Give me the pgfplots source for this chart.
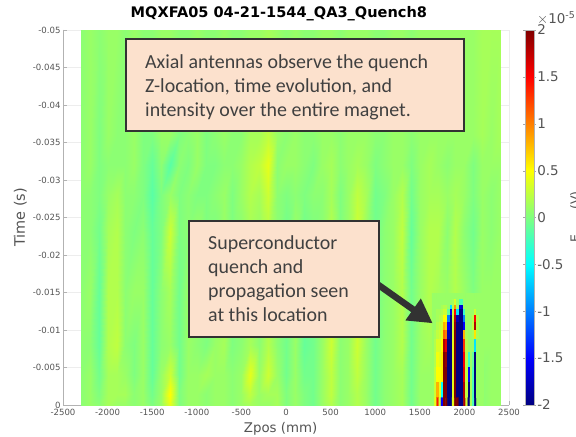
\documentclass[border=0pt]{standalone}
\usepackage{fontspec}
\setmainfont{DejaVu Sans}
\newfontfamily\boxfont{Carlito}
\usepackage{pgfplots}
\pgfplotsset{compat=1.18}
\usetikzlibrary{arrows.meta}
\definecolor{tk}{gray}{0.33}
\definecolor{peach}{RGB}{252,225,205}
\definecolor{bd}{RGB}{50,50,50}
\definecolor{tx}{RGB}{64,64,64}
\begin{document}
\begin{tikzpicture}[x=1bp,y=1bp]
\useasboundingbox (0,0) rectangle (576,437);
\begin{axis}[
  at={(63bp,32bp)}, anchor=south west, scale only axis,
  width=446bp, height=375bp,
  xmin=-2500, xmax=2500, ymin=-0.05, ymax=0, y dir=reverse,
  axis x line*=bottom, axis y line*=left,
  axis line style={gray!60,-},
  scaled y ticks=false,
  xtick={-2500,-2000,...,2500},
  xticklabels={-2500,-2000,-1500,-1000,-500,0,500,1000,1500,2000,2500},
  ytick={-0.05,-0.045,-0.04,-0.035,-0.03,-0.025,-0.02,-0.015,-0.01,-0.005,0},
  yticklabels={-0.05,-0.045,-0.04,-0.035,-0.03,-0.025,-0.02,-0.015,-0.01,-0.005,0},
  tick align=inside, major tick length=4bp,
  tick style={gray!60},
  grid=major, major grid style={gray!14,line width=0.4pt},
  tick label style={font=\fontsize{8.6}{10}\selectfont, text=tk},
  xticklabel style={yshift=-1bp}, yticklabel style={xshift=1bp},
  title={\bfseries MQXFA05 04-21-1544\_QA3\_Quench8},
  title style={font=\fontsize{14.6}{16}\selectfont, at={(axis description cs:0.484,1)}, anchor=south, yshift=3bp, inner sep=0pt},
  xlabel={Zpos (mm)},
  xlabel style={font=\fontsize{13.4}{15}\selectfont, text=tk, at={(axis description cs:0.488,-0.045)}, anchor=north, inner sep=0pt},
  ylabel={Time (s)},
  ylabel style={font=\fontsize{14.5}{16}\selectfont, text=tk, at={(axis description cs:-0.081,0.5)}, anchor=south, inner sep=0pt, rotate=0},
  colormap/jet,
  point meta min=-2, point meta max=2,
  colorbar,
  colorbar style={
    at={(1.036,0)}, anchor=south west, width=9bp, height=375bp,
    y dir=normal,
    ytick={-2,-1.5,-1,-0.5,0,0.5,1,1.5,2},
    yticklabels={-2,-1.5,-1,-0.5,0,0.5,1,1.5,2},
    tick align=outside, major tick length=2bp, tick style={gray!70},
    axis line style={gray!60},
    ticklabel pos=right,
    yticklabel style={font=\fontsize{13.5}{15}\selectfont, text=tk, xshift=0bp, inner sep=1bp},
    scaled y ticks=false,
  },
]
\addplot[surf, shader=interp, mesh/cols=48, point meta=\thisrow{c}] table[row sep=\\] {
x y c\\
-2300 -.05 .05\\ -2200 -.05 .1\\ -2100 -.05 .05\\ -2000 -.05 .1\\ -1900 -.05 .1\\ -1800 -.05 .05\\ -1700 -.05 .1\\ -1600 -.05 .05\\ -1500 -.05 .05\\ -1400 -.05 .1\\ -1300 -.05 .1\\ -1200 -.05 .05\\ -1100 -.05 .05\\ -1000 -.05 .1\\ -900 -.05 .05\\ -800 -.05 .05\\ -700 -.05 .1\\ -600 -.05 .05\\ -500 -.05 .05\\ -400 -.05 .1\\ -300 -.05 .1\\ -200 -.05 .15\\ -100 -.05 .1\\ 0 -.05 .05\\ 100 -.05 .1\\ 200 -.05 .05\\ 300 -.05 .05\\ 400 -.05 .1\\ 500 -.05 .1\\ 600 -.05 .05\\ 700 -.05 .1\\ 800 -.05 .1\\ 900 -.05 .1\\ 1000 -.05 .05\\ 1100 -.05 .05\\ 1200 -.05 .1\\ 1300 -.05 .1\\ 1400 -.05 .05\\ 1500 -.05 .1\\ 1600 -.05 .1\\ 1700 -.05 .1\\ 1800 -.05 .1\\ 1900 -.05 .1\\ 2000 -.05 .1\\ 2100 -.05 .1\\ 2200 -.05 .15\\ 2300 -.05 .15\\ 2400 -.05 .15\\
-2300 -.036 .05\\ -2200 -.036 .1\\ -2100 -.036 0\\ -2000 -.036 .1\\ -1900 -.036 .05\\ -1800 -.036 .05\\ -1700 -.036 .1\\ -1600 -.036 0\\ -1500 -.036 0\\ -1400 -.036 .1\\ -1300 -.036 .1\\ -1200 -.036 0\\ -1100 -.036 .05\\ -1000 -.036 .1\\ -900 -.036 0\\ -800 -.036 .05\\ -700 -.036 .1\\ -600 -.036 .05\\ -500 -.036 .05\\ -400 -.036 .15\\ -300 -.036 .15\\ -200 -.036 .25\\ -100 -.036 .1\\ 0 -.036 .05\\ 100 -.036 .1\\ 200 -.036 .05\\ 300 -.036 .05\\ 400 -.036 .1\\ 500 -.036 .1\\ 600 -.036 .05\\ 700 -.036 .1\\ 800 -.036 .1\\ 900 -.036 .1\\ 1000 -.036 .05\\ 1100 -.036 .05\\ 1200 -.036 .1\\ 1300 -.036 .1\\ 1400 -.036 .05\\ 1500 -.036 .1\\ 1600 -.036 .1\\ 1700 -.036 .1\\ 1800 -.036 .1\\ 1900 -.036 .1\\ 2000 -.036 .1\\ 2100 -.036 .1\\ 2200 -.036 .15\\ 2300 -.036 .1\\ 2400 -.036 .15\\
-2300 -.032 .05\\ -2200 -.032 .1\\ -2100 -.032 0\\ -2000 -.032 .05\\ -1900 -.032 .05\\ -1800 -.032 .05\\ -1700 -.032 .1\\ -1600 -.032 0\\ -1500 -.032 -.1\\ -1400 -.032 .05\\ -1300 -.032 -.15\\ -1200 -.032 .05\\ -1100 -.032 0\\ -1000 -.032 .1\\ -900 -.032 0\\ -800 -.032 0\\ -700 -.032 .05\\ -600 -.032 .05\\ -500 -.032 .1\\ -400 -.032 .2\\ -300 -.032 .25\\ -200 -.032 .4\\ -100 -.032 .05\\ 0 -.032 .1\\ 100 -.032 .1\\ 200 -.032 .05\\ 300 -.032 0\\ 400 -.032 .1\\ 500 -.032 .15\\ 600 -.032 .05\\ 700 -.032 .1\\ 800 -.032 .15\\ 900 -.032 .1\\ 1000 -.032 0\\ 1100 -.032 .05\\ 1200 -.032 .1\\ 1300 -.032 .1\\ 1400 -.032 0\\ 1500 -.032 .1\\ 1600 -.032 .15\\ 1700 -.032 .1\\ 1800 -.032 .05\\ 1900 -.032 .1\\ 2000 -.032 .1\\ 2100 -.032 0\\ 2200 -.032 .1\\ 2300 -.032 .1\\ 2400 -.032 .1\\
-2300 -.028 .05\\ -2200 -.028 .05\\ -2100 -.028 0\\ -2000 -.028 .1\\ -1900 -.028 .15\\ -1800 -.028 .05\\ -1700 -.028 .05\\ -1600 -.028 0\\ -1500 -.028 -.15\\ -1400 -.028 0\\ -1300 -.028 .1\\ -1200 -.028 0\\ -1100 -.028 .05\\ -1000 -.028 0\\ -900 -.028 0\\ -800 -.028 .05\\ -700 -.028 .1\\ -600 -.028 0\\ -500 -.028 .1\\ -400 -.028 .2\\ -300 -.028 .15\\ -200 -.028 .3\\ -100 -.028 .05\\ 0 -.028 0\\ 100 -.028 .05\\ 200 -.028 0\\ 300 -.028 .05\\ 400 -.028 .05\\ 500 -.028 .15\\ 600 -.028 0\\ 700 -.028 .1\\ 800 -.028 .25\\ 900 -.028 .15\\ 1000 -.028 -.05\\ 1100 -.028 0\\ 1200 -.028 .1\\ 1300 -.028 .2\\ 1400 -.028 -.05\\ 1500 -.028 .1\\ 1600 -.028 .15\\ 1700 -.028 .15\\ 1800 -.028 .1\\ 1900 -.028 .15\\ 2000 -.028 .1\\ 2100 -.028 0\\ 2200 -.028 .1\\ 2300 -.028 .05\\ 2400 -.028 .1\\
-2300 -.023 .05\\ -2200 -.023 .05\\ -2100 -.023 -.05\\ -2000 -.023 .15\\ -1900 -.023 .2\\ -1800 -.023 .05\\ -1700 -.023 0\\ -1600 -.023 .05\\ -1500 -.023 -.1\\ -1400 -.023 0\\ -1300 -.023 .3\\ -1200 -.023 0\\ -1100 -.023 .05\\ -1000 -.023 .1\\ -900 -.023 0\\ -800 -.023 0\\ -700 -.023 .1\\ -600 -.023 0\\ -500 -.023 .05\\ -400 -.023 .15\\ -300 -.023 .1\\ -200 -.023 .2\\ -100 -.023 .05\\ 0 -.023 -.05\\ 100 -.023 .1\\ 200 -.023 -.05\\ 300 -.023 0\\ 400 -.023 .05\\ 500 -.023 .2\\ 600 -.023 0\\ 700 -.023 .1\\ 800 -.023 .3\\ 900 -.023 .1\\ 1000 -.023 -.05\\ 1100 -.023 .05\\ 1200 -.023 .1\\ 1300 -.023 .25\\ 1400 -.023 -.1\\ 1500 -.023 .1\\ 1600 -.023 .2\\ 1700 -.023 .2\\ 1800 -.023 .05\\ 1900 -.023 .2\\ 2000 -.023 .05\\ 2100 -.023 -.05\\ 2200 -.023 .1\\ 2300 -.023 .05\\ 2400 -.023 .1\\
-2300 -.015 .05\\ -2200 -.015 .1\\ -2100 -.015 -.1\\ -2000 -.015 .2\\ -1900 -.015 .2\\ -1800 -.015 .05\\ -1700 -.015 .1\\ -1600 -.015 .1\\ -1500 -.015 -.1\\ -1400 -.015 .05\\ -1300 -.015 .15\\ -1200 -.015 -.05\\ -1100 -.015 .1\\ -1000 -.015 .1\\ -900 -.015 .05\\ -800 -.015 .05\\ -700 -.015 .1\\ -600 -.015 0\\ -500 -.015 .05\\ -400 -.015 .1\\ -300 -.015 .05\\ -200 -.015 .15\\ -100 -.015 .05\\ 0 -.015 0\\ 100 -.015 .1\\ 200 -.015 -.05\\ 300 -.015 0\\ 400 -.015 .1\\ 500 -.015 .25\\ 600 -.015 .05\\ 700 -.015 .1\\ 800 -.015 .25\\ 900 -.015 .1\\ 1000 -.015 -.05\\ 1100 -.015 .05\\ 1200 -.015 .1\\ 1300 -.015 .2\\ 1400 -.015 -.05\\ 1500 -.015 .1\\ 1600 -.015 .2\\ 1700 -.015 .15\\ 1800 -.015 .1\\ 1900 -.015 .2\\ 2000 -.015 .1\\ 2100 -.015 0\\ 2200 -.015 .1\\ 2300 -.015 .1\\ 2400 -.015 .1\\
-2300 -.008 .05\\ -2200 -.008 .05\\ -2100 -.008 -.1\\ -2000 -.008 .2\\ -1900 -.008 .25\\ -1800 -.008 .05\\ -1700 -.008 0\\ -1600 -.008 .1\\ -1500 -.008 -.1\\ -1400 -.008 .05\\ -1300 -.008 .1\\ -1200 -.008 -.05\\ -1100 -.008 .1\\ -1000 -.008 .05\\ -900 -.008 0\\ -800 -.008 .1\\ -700 -.008 .15\\ -600 -.008 0\\ -500 -.008 .05\\ -400 -.008 .15\\ -300 -.008 .05\\ -200 -.008 .2\\ -100 -.008 .05\\ 0 -.008 -.05\\ 100 -.008 .1\\ 200 -.008 -.1\\ 300 -.008 -.05\\ 400 -.008 .1\\ 500 -.008 .3\\ 600 -.008 .05\\ 700 -.008 .1\\ 800 -.008 .3\\ 900 -.008 .1\\ 1000 -.008 -.05\\ 1100 -.008 .05\\ 1200 -.008 .1\\ 1300 -.008 .2\\ 1400 -.008 -.05\\ 1500 -.008 .1\\ 1600 -.008 .15\\ 1700 -.008 .1\\ 1800 -.008 .1\\ 1900 -.008 .15\\ 2000 -.008 .1\\ 2100 -.008 .05\\ 2200 -.008 .1\\ 2300 -.008 .1\\ 2400 -.008 .1\\
-2300 -.004 .05\\ -2200 -.004 .1\\ -2100 -.004 -.05\\ -2000 -.004 .15\\ -1900 -.004 .15\\ -1800 -.004 .1\\ -1700 -.004 0\\ -1600 -.004 .1\\ -1500 -.004 -.1\\ -1400 -.004 .1\\ -1300 -.004 .3\\ -1200 -.004 -.05\\ -1100 -.004 .1\\ -1000 -.004 .1\\ -900 -.004 .15\\ -800 -.004 .1\\ -700 -.004 .1\\ -600 -.004 .05\\ -500 -.004 .1\\ -400 -.004 .4\\ -300 -.004 .1\\ -200 -.004 .3\\ -100 -.004 .1\\ 0 -.004 -.05\\ 100 -.004 .1\\ 200 -.004 -.05\\ 300 -.004 -.05\\ 400 -.004 .1\\ 500 -.004 .25\\ 600 -.004 .05\\ 700 -.004 .1\\ 800 -.004 .25\\ 900 -.004 .1\\ 1000 -.004 -.05\\ 1100 -.004 .05\\ 1200 -.004 .1\\ 1300 -.004 .15\\ 1400 -.004 -.05\\ 1500 -.004 .1\\ 1600 -.004 .1\\ 1700 -.004 .1\\ 1800 -.004 .1\\ 1900 -.004 .1\\ 2000 -.004 .1\\ 2100 -.004 .05\\ 2200 -.004 .05\\ 2300 -.004 .1\\ 2400 -.004 .1\\
-2300 -.0015 .05\\ -2200 -.0015 .1\\ -2100 -.0015 0\\ -2000 -.0015 .15\\ -1900 -.0015 .15\\ -1800 -.0015 .15\\ -1700 -.0015 .05\\ -1600 -.0015 .1\\ -1500 -.0015 -.05\\ -1400 -.0015 .1\\ -1300 -.0015 .5\\ -1200 -.0015 0\\ -1100 -.0015 .1\\ -1000 -.0015 .1\\ -900 -.0015 .05\\ -800 -.0015 .1\\ -700 -.0015 .1\\ -600 -.0015 .05\\ -500 -.0015 .1\\ -400 -.0015 .25\\ -300 -.0015 .1\\ -200 -.0015 .15\\ -100 -.0015 .15\\ 0 -.0015 0\\ 100 -.0015 .1\\ 200 -.0015 0\\ 300 -.0015 -.05\\ 400 -.0015 .1\\ 500 -.0015 .25\\ 600 -.0015 .05\\ 700 -.0015 .1\\ 800 -.0015 .2\\ 900 -.0015 .1\\ 1000 -.0015 -.05\\ 1100 -.0015 .05\\ 1200 -.0015 .1\\ 1300 -.0015 .15\\ 1400 -.0015 -.05\\ 1500 -.0015 .1\\ 1600 -.0015 .1\\ 1700 -.0015 .1\\ 1800 -.0015 .1\\ 1900 -.0015 .1\\ 2000 -.0015 .1\\ 2100 -.0015 .05\\ 2200 -.0015 .05\\ 2300 -.0015 .1\\ 2400 -.0015 .1\\
-2300 0 .05\\ -2200 0 .1\\ -2100 0 .05\\ -2000 0 .15\\ -1900 0 .1\\ -1800 0 .1\\ -1700 0 .05\\ -1600 0 .1\\ -1500 0 0\\ -1400 0 .1\\ -1300 0 .4\\ -1200 0 0\\ -1100 0 .1\\ -1000 0 .1\\ -900 0 .05\\ -800 0 .1\\ -700 0 .1\\ -600 0 .05\\ -500 0 .1\\ -400 0 .15\\ -300 0 .1\\ -200 0 .1\\ -100 0 .15\\ 0 0 0\\ 100 0 .1\\ 200 0 0\\ 300 0 -.05\\ 400 0 .1\\ 500 0 .2\\ 600 0 .05\\ 700 0 .1\\ 800 0 .2\\ 900 0 .1\\ 1000 0 -.05\\ 1100 0 .05\\ 1200 0 .1\\ 1300 0 .15\\ 1400 0 -.05\\ 1500 0 .1\\ 1600 0 .1\\ 1700 0 .1\\ 1800 0 .1\\ 1900 0 .1\\ 2000 0 .1\\ 2100 0 .05\\ 2200 0 .05\\ 2300 0 .1\\ 2400 0 .1\\
};
\addplot[matrix plot*, mesh/cols=23, point meta=\thisrow{c}] table[row sep=\\] {
x y c\\
1650 -.0145 .1\\ 1675 -.0145 .1\\ 1700 -.0145 .1\\ 1725 -.0145 .1\\ 1750 -.0145 .1\\ 1775 -.0145 .1\\ 1800 -.0145 .1\\ 1825 -.0145 .1\\ 1850 -.0145 .1\\ 1875 -.0145 .1\\ 1900 -.0145 .1\\ 1925 -.0145 .1\\ 1950 -.0145 .1\\ 1975 -.0145 .1\\ 2000 -.0145 .1\\ 2025 -.0145 .1\\ 2050 -.0145 .1\\ 2075 -.0145 .1\\ 2100 -.0145 .1\\ 2125 -.0145 .1\\ 2150 -.0145 .1\\ 2175 -.0145 .1\\ 2200 -.0145 .1\\
1650 -.0137 .1\\ 1675 -.0137 .1\\ 1700 -.0137 .1\\ 1725 -.0137 .1\\ 1750 -.0137 .1\\ 1775 -.0137 .1\\ 1800 -.0137 .1\\ 1825 -.0137 .1\\ 1850 -.0137 .1\\ 1875 -.0137 .15\\ 1900 -.0137 .35\\ 1925 -.0137 .1\\ 1950 -.0137 -.2\\ 1975 -.0137 -.2\\ 2000 -.0137 .1\\ 2025 -.0137 .1\\ 2050 -.0137 .1\\ 2075 -.0137 .1\\ 2100 -.0137 .1\\ 2125 -.0137 .1\\ 2150 -.0137 .1\\ 2175 -.0137 .1\\ 2200 -.0137 .1\\
1650 -.013 .1\\ 1675 -.013 .1\\ 1700 -.013 .1\\ 1725 -.013 .1\\ 1750 -.013 .15\\ 1775 -.013 .2\\ 1800 -.013 .2\\ 1825 -.013 .1\\ 1850 -.013 -.6\\ 1875 -.013 .2\\ 1900 -.013 .9\\ 1925 -.013 .1\\ 1950 -.013 -1.6\\ 1975 -.013 -1.7\\ 2000 -.013 .1\\ 2025 -.013 .1\\ 2050 -.013 .1\\ 2075 -.013 .1\\ 2100 -.013 .1\\ 2125 -.013 .1\\ 2150 -.013 .1\\ 2175 -.013 .1\\ 2200 -.013 .1\\
1650 -.0125 .1\\ 1675 -.0125 .1\\ 1700 -.0125 .15\\ 1725 -.0125 .15\\ 1750 -.0125 .2\\ 1775 -.0125 .3\\ 1800 -.0125 .3\\ 1825 -.0125 -.1\\ 1850 -.0125 -1.6\\ 1875 -.0125 .3\\ 1900 -.0125 1.5\\ 1925 -.0125 -.6\\ 1950 -.0125 -2\\ 1975 -.0125 -2\\ 2000 -.0125 -.3\\ 2025 -.0125 .1\\ 2050 -.0125 .1\\ 2075 -.0125 .1\\ 2100 -.0125 .1\\ 2125 -.0125 .3\\ 2150 -.0125 .1\\ 2175 -.0125 .1\\ 2200 -.0125 .1\\
1650 -.0115 .1\\ 1675 -.0115 .1\\ 1700 -.0115 .15\\ 1725 -.0115 .2\\ 1750 -.0115 .25\\ 1775 -.0115 .5\\ 1800 -.0115 .5\\ 1825 -.0115 -1\\ 1850 -.0115 -2\\ 1875 -.0115 .3\\ 1900 -.0115 1.8\\ 1925 -.0115 -1.8\\ 1950 -.0115 -2\\ 1975 -.0115 -2\\ 2000 -.0115 -1\\ 2025 -.0115 .1\\ 2050 -.0115 .1\\ 2075 -.0115 .1\\ 2100 -.0115 .2\\ 2125 -.0115 1.5\\ 2150 -.0115 .2\\ 2175 -.0115 .1\\ 2200 -.0115 .1\\
1650 -.0105 .1\\ 1675 -.0105 .1\\ 1700 -.0105 .2\\ 1725 -.0105 .25\\ 1750 -.0105 .3\\ 1775 -.0105 .8\\ 1800 -.0105 .7\\ 1825 -.0105 -1.5\\ 1850 -.0105 -2\\ 1875 -.0105 .3\\ 1900 -.0105 1.9\\ 1925 -.0105 -2\\ 1950 -.0105 -2\\ 1975 -.0105 -2\\ 2000 -.0105 -1.5\\ 2025 -.0105 .1\\ 2050 -.0105 .1\\ 2075 -.0105 .1\\ 2100 -.0105 .25\\ 2125 -.0105 1.8\\ 2150 -.0105 .2\\ 2175 -.0105 .1\\ 2200 -.0105 .1\\
1650 -.0095 .1\\ 1675 -.0095 .15\\ 1700 -.0095 .25\\ 1725 -.0095 .3\\ 1750 -.0095 .4\\ 1775 -.0095 1.1\\ 1800 -.0095 1\\ 1825 -.0095 -1.8\\ 1850 -.0095 -2\\ 1875 -.0095 .35\\ 1900 -.0095 2\\ 1925 -.0095 -2\\ 1950 -.0095 -2\\ 1975 -.0095 -2\\ 2000 -.0095 .8\\ 2025 -.0095 .15\\ 2050 -.0095 .1\\ 2075 -.0095 .1\\ 2100 -.0095 .15\\ 2125 -.0095 .6\\ 2150 -.0095 .15\\ 2175 -.0095 .1\\ 2200 -.0095 .1\\
1650 -.008 .1\\ 1675 -.008 .2\\ 1700 -.008 .35\\ 1725 -.008 .35\\ 1750 -.008 .5\\ 1775 -.008 1.8\\ 1800 -.008 1.6\\ 1825 -.008 -2\\ 1850 -.008 -2\\ 1875 -.008 .4\\ 1900 -.008 2\\ 1925 -.008 -2\\ 1950 -.008 -2\\ 1975 -.008 -2\\ 2000 -.008 1.3\\ 2025 -.008 .2\\ 2050 -.008 .1\\ 2075 -.008 .1\\ 2100 -.008 .1\\ 2125 -.008 -.6\\ 2150 -.008 .1\\ 2175 -.008 .1\\ 2200 -.008 .1\\
1650 -.006 .1\\ 1675 -.006 .2\\ 1700 -.006 .45\\ 1725 -.006 .4\\ 1750 -.006 .55\\ 1775 -.006 2\\ 1800 -.006 1.9\\ 1825 -.006 -2\\ 1850 -.006 -2\\ 1875 -.006 .4\\ 1900 -.006 2\\ 1925 -.006 -2\\ 1950 -.006 -2\\ 1975 -.006 -2\\ 2000 -.006 1.5\\ 2025 -.006 .2\\ 2050 -.006 -.3\\ 2075 -.006 .1\\ 2100 -.006 -.1\\ 2125 -.006 -2\\ 2150 -.006 .1\\ 2175 -.006 .1\\ 2200 -.006 .1\\
1650 -.004 .1\\ 1675 -.004 .25\\ 1700 -.004 .5\\ 1725 -.004 .5\\ 1750 -.004 .55\\ 1775 -.004 2\\ 1800 -.004 2\\ 1825 -.004 -2\\ 1850 -.004 -2\\ 1875 -.004 .4\\ 1900 -.004 2\\ 1925 -.004 -2\\ 1950 -.004 -2\\ 1975 -.004 -2\\ 2000 -.004 1.6\\ 2025 -.004 .25\\ 2050 -.004 -1.5\\ 2075 -.004 .15\\ 2100 -.004 -.2\\ 2125 -.004 -2\\ 2150 -.004 .1\\ 2175 -.004 .1\\ 2200 -.004 .1\\
1650 -.002 .1\\ 1675 -.002 .3\\ 1700 -.002 .8\\ 1725 -.002 .4\\ 1750 -.002 -.5\\ 1775 -.002 2\\ 1800 -.002 2\\ 1825 -.002 -2\\ 1850 -.002 -2\\ 1875 -.002 .4\\ 1900 -.002 2\\ 1925 -.002 -2\\ 1950 -.002 -2\\ 1975 -.002 -2\\ 2000 -.002 1.8\\ 2025 -.002 .25\\ 2050 -.002 -2\\ 2075 -.002 .15\\ 2100 -.002 -.2\\ 2125 -.002 -2\\ 2150 -.002 .1\\ 2175 -.002 .1\\ 2200 -.002 .1\\
1650 0 .1\\ 1675 0 .4\\ 1700 0 1.4\\ 1725 0 .3\\ 1750 0 -1.5\\ 1775 0 2\\ 1800 0 2\\ 1825 0 -2\\ 1850 0 -2\\ 1875 0 .4\\ 1900 0 2\\ 1925 0 2\\ 1950 0 -2\\ 1975 0 -2\\ 2000 0 1.8\\ 2025 0 .3\\ 2050 0 -2\\ 2075 0 .15\\ 2100 0 -.2\\ 2125 0 -2\\ 2150 0 .1\\ 2175 0 .1\\ 2200 0 .1\\
};
\end{axis}
% annotations
\draw[bd, fill=peach, line width=1.5bp] (126,306) rectangle (464,398);
\node[anchor=north west, align=left, inner sep=0pt, text=tx, font=\boxfont\fontsize{20}{24.2}\selectfont] at (145,383) {Axial antennas observe the quench\\Z-location, time evolution, and\\intensity over the entire magnet.};
\draw[-{Triangle[width=25bp,length=24bp]}, bd, line width=6.5bp] (370,158) -- (432.7,113.7);
\draw[bd, fill=peach, line width=1.5bp] (189,100) rectangle (379,216);
\node[anchor=north west, align=left, inner sep=0pt, text=tx, font=\boxfont\fontsize{20}{24.2}\selectfont] at (208,202) {Superconductor\\quench and\\propagation seen\\at this location};
% colorbar multiplier and clipped label
\node[anchor=south west, inner sep=0pt, text=tk, font=\fontsize{13.5}{15}\selectfont] at (537,412) {$\times$10\textsuperscript{-5}};
\node[rotate=90, anchor=north, inner sep=0pt, text=tk, font=\fontsize{12.5}{14}\selectfont] at (570,220) {E\hspace{25bp}(V)};
\end{tikzpicture}
\end{document}
